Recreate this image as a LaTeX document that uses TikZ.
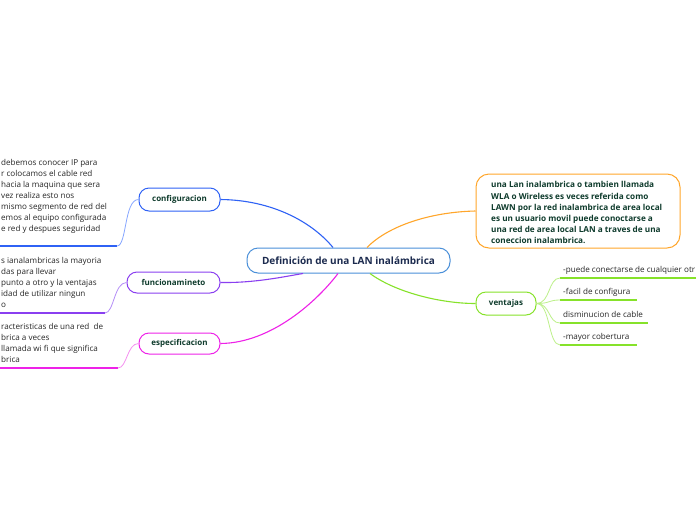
\documentclass[tikz,border=0pt]{standalone}
\usepackage{fontspec}
\setmainfont{Open Sans}
\usetikzlibrary{calc}
\definecolor{centralc}{HTML}{4A90D9}
\definecolor{centraltext}{HTML}{1B2A4E}
\definecolor{nodetext}{HTML}{0E3B2C}
\definecolor{bodytext}{HTML}{262626}
\definecolor{bluec}{HTML}{2F62F5}
\definecolor{bluelt}{HTML}{86A6FF}
\definecolor{purplec}{HTML}{8A3FF0}
\definecolor{purplelt}{HTML}{B58EF7}
\definecolor{magc}{HTML}{EE22E8}
\definecolor{maglt}{HTML}{F590F0}
\definecolor{orangec}{HTML}{FFA62B}
\definecolor{greenc}{HTML}{86E22A}
\definecolor{greenlt}{HTML}{BDF08A}
\begin{document}
\begin{tikzpicture}[x=1pt,y=-1pt,
  topic/.style={draw, line width=1pt, rounded corners=10pt, fill=white, font=\fontsize{8}{9}\selectfont\bfseries, text=nodetext, inner sep=0pt},
  conn/.style={line width=1.1pt},
  subconn/.style={line width=0.8pt},
  uline/.style={line width=1.6pt},
  bodytxt/.style={anchor=north west, align=left, inner sep=0pt, font=\fontsize{8.1}{11}\selectfont, text=bodytext},
  itemtxt/.style={anchor=base west, inner sep=0pt, font=\fontsize{8.1}{9}\selectfont, text=bodytext}]
\useasboundingbox[fill=white] (0,0) rectangle (696,520);

% central
\node[draw=centralc, line width=1pt, rounded corners=11pt, fill=white, minimum width=203pt, minimum height=25pt,
  font=\fontsize{10}{12}\selectfont\bfseries, text=centraltext] (root) at (348.5,260.5) {Definición de una LAN inalámbrica};

% topics
\node[topic, draw=bluec, minimum width=81pt, minimum height=23pt] (cfg) at (179.5,199.5) {configuracion};
\node[topic, draw=purplec, minimum width=93pt, minimum height=21pt] (fun) at (173.5,282.5) {funcionamineto};
\node[topic, draw=magc, minimum width=81pt, minimum height=21pt] (esp) at (179.5,343.5) {especificacion};
\node[topic, draw=greenc, minimum width=60pt, minimum height=23pt] (ven) at (506,303.5) {ventajas};
\node[topic, draw=orangec, rounded corners=13pt, minimum width=204pt, minimum height=74pt] (def) at (578,211) {};
\node[anchor=north west, align=left, inner sep=0pt, font=\fontsize{8.2}{11.1}\selectfont\bfseries, text=nodetext] (deftxt) at (491,181.5)
  {una Lan inalambrica o tambien llamada\\ WLA o Wireless es veces referida como\\ LAWN por la red inalambrica de area local\\ es un usuario movil puede conoctarse a\\ una red de area local LAN a traves de una\\ coneccion inalambrica.};

% main connectors
\draw[conn, bluec] (cfg.east) .. controls (272,200) and (312,222) .. ($(root.north)+(-15.5,0)$);
\draw[conn, purplec] (fun.east) .. controls (255,283) and (282,277) .. ($(root.south)+(-45.5,0)$);
\draw[conn, magc] (esp.east) .. controls (272,343) and (318,300) .. ($(root.south)+(-10.5,0)$);
\draw[conn, orangec] ($(root.north)+(18.5,0)$) .. controls (388,226) and (430,212) .. (def.west);
\draw[conn, greenc] ($(root.south)+(21.5,0)$) .. controls (395,292) and (440,303.5) .. (ven.west);

% left bodies
\coordinate (cfgL) at (0,246); \coordinate (cfgU) at (117,246);
\draw[uline, bluec] (cfgL) -- (cfgU);
\draw[subconn, bluelt] (cfg.west) .. controls (124,199.5) and (127,246) .. (cfgU);
\node[bodytxt] (cfgtxt) at (1,158.8) {debemos conocer IP para\\ r colocamos el cable red\\ hacia la maquina que sera\\ vez realiza esto nos\\ mismo segmento de red del\\ emos al equipo configurada\\ e red y despues seguridad};

\coordinate (funL) at (0,313); \coordinate (funU) at (105,313);
\draw[uline, purplec] (funL) -- (funU);
\draw[subconn, purplelt] (fun.west) .. controls (114,282.5) and (114,313) .. (funU);
\node[bodytxt] (funtxt) at (1,256.8) {s ianalambricas la mayoria\\ das para llevar\\ punto a otro y la ventajas\\ idad de utilizar ningun\\ o};

\coordinate (espL) at (0,368); \coordinate (espU) at (118,368);
\draw[uline, magc] (espL) -- (espU);
\draw[subconn, maglt] (esp.west) .. controls (127,343.5) and (127,368) .. (espU);
\node[bodytxt] (esptxt) at (1,322.8) {racteristicas de una red\ \ de\\ brica a veces\\ llamada wi fi que significa\\ brica};

% right items
\coordinate (v1) at (560,278); \coordinate (v1e) at (700,278);
\coordinate (v2) at (560,300); \coordinate (v2e) at (637,300);
\coordinate (v3) at (560,323); \coordinate (v3e) at (648,323);
\coordinate (v4) at (560,345); \coordinate (v4e) at (637,345);
\foreach \a/\b in {v1/v1e,v2/v2e,v3/v3e,v4/v4e}{
  \draw[uline, greenc] (\a) -- (\b);
  \draw[subconn, greenlt] (ven.east) .. controls ($(ven.east)+(14,0)$) and ($(\a)+(-12,0)$) .. (\a);
}
\node[itemtxt] (t1) at (563,272) {-puede conectarse de cualquier otr};
\node[itemtxt] (t2) at (563,294) {-facil de configura};
\node[itemtxt] (t3) at (563,317) {disminucion de cable};
\node[itemtxt] (t4) at (563,339) {-mayor cobertura};
\end{tikzpicture}
\end{document}
